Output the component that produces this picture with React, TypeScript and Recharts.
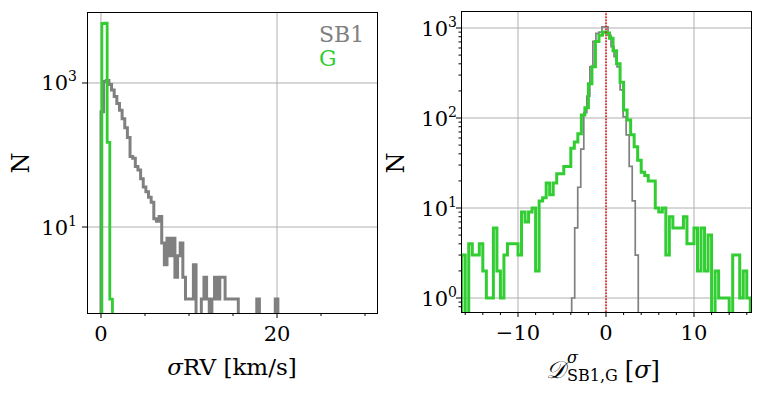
import React from "react";
import { LineChart, Line, XAxis, YAxis, ReferenceLine } from "recharts";

const FONT = "'DejaVu Serif', 'Liberation Serif', serif";
const GRID = "#b0b0b0";
const SB1_COLOR = "#808080";
const G_COLOR = "#32cd32";
// empty bins sit below the log axis and get clipped
const FLOOR = 0.1;

// left panel: sigma RV [km/s]
const sb1RvStart = 0;
const sb1RvWidth = 0.3;
const sb1RvCounts = [
  400, 1050, 1080, 950, 800, 650, 520, 420, 320, 240, 175, 95, 90, 69, 62, 47,
  36, 31, 26, 22, 13, 12, 14, 6, 3, 7, 4, 7, 2, 4, 6, 2, 1, 1, 1, 3, 0, 0, 1, 2,
  1, 0, 1, 2, 1, 2, 2, 1, 1, 1, 1, 1, 0, 0, 0, 0, 0, 0, 0, 1, 0, 0, 0, 0, 0, 0, 1,
];
const gRvEdges = [0.1, 0.4, 0.7, 1.0, 1.3];
const gRvCounts = [6700, 6800, 150, 1];

// right panel: D^sigma_{SB1,G} [sigma]
const sb1DStart = -3.9;
const sb1DWidth = 0.344;
const sb1DCounts = [
  1, 6, 17, 45, 115, 175, 370, 710, 870, 900, 1030, 1030, 830, 620, 480, 370,
  205, 103, 65, 29, 12, 3,
];
const gDStart = -16.4;
const gDWidth = 0.4;
const gDCounts = [
  3, 0, 4, 3, 3, 4, 2, 1, 1, 6, 2, 1, 3, 4, 4, 4, 3, 9, 7, 9, 10, 2, 12, 13, 19,
  14, 19, 24, 24, 29, 29, 46, 54, 67, 108, 130, 240, 370, 710, 830, 900, 880,
  770, 560, 400, 250, 123, 95, 65, 48, 34, 25, 23, 20, 20, 10, 9, 10, 3, 8, 6, 6,
  6, 8, 4, 4, 6, 2, 6, 2, 5, 0, 2, 1, 1, 1, 0, 3, 3, 1, 2, 1,
];

// axes
const rvXTicks = [0, 5, 10, 15, 20, 25, 30];
const rvXLabels = [0, 20];
const rvYTicks = [10, 1000];
const dXTicks = [-16, -14, -12, -10, -8, -6, -4, -2, 0, 2, 4, 6, 8, 10, 12, 14, 16];
const dXLabels = [-10, 0, 10];
const dYTicks = [
  0.8, 0.9, 1, 2, 3, 4, 5, 6, 7, 8, 9, 10, 20, 30, 40, 50, 60, 70, 80, 90, 100,
  200, 300, 400, 500, 600, 700, 800, 900, 1000,
];
const dYLabels = [1, 10, 100, 1000];

function uniformEdges(start: number, width: number, n: number) {
  return Array.from({ length: n + 1 }, (_, i) => start + i * width);
}

// matplotlib "step" outline of a histogram
function stepOutline(edges: number[], counts: number[]) {
  const pts = [{ x: edges[0], y: FLOOR }];
  counts.forEach((c, i) => {
    const v = c > 0 ? c : FLOOR;
    pts.push({ x: edges[i], y: v }, { x: edges[i + 1], y: v });
  });
  pts.push({ x: edges[edges.length - 1], y: FLOOR });
  return pts;
}

const sb1Rv = stepOutline(
  uniformEdges(sb1RvStart, sb1RvWidth, sb1RvCounts.length),
  sb1RvCounts,
);
const gRv = stepOutline(gRvEdges, gRvCounts);
const sb1D = stepOutline(
  uniformEdges(sb1DStart, sb1DWidth, sb1DCounts.length),
  sb1DCounts,
);
const gD = stepOutline(uniformEdges(gDStart, gDWidth, gDCounts.length), gDCounts);

const fmt = (v: number) => (v < 0 ? `\u2212${Math.abs(v)}` : `${v}`);

function XTick(props: any) {
  const { x, y, payload, labels } = props;
  const v = payload.value;
  const major = labels.includes(v);
  return (
    <g>
      <line x1={x} x2={x} y1={y} y2={y + (major ? 5 : 3)} stroke="#000" strokeWidth={1} />
      {major && (
        <text x={x} y={y + 28} textAnchor="middle" fontFamily={FONT} fontSize={21} fill="#000">
          {fmt(v)}
        </text>
      )}
    </g>
  );
}

function YTick(props: any) {
  const { x, y, payload, labels, pad } = props;
  const v = payload.value;
  const major = labels.includes(v);
  const exp = Math.round(Math.log10(v));
  return (
    <g>
      <line x1={x - (major ? 5 : 2.5)} x2={x} y1={y} y2={y} stroke="#000" strokeWidth={1} />
      {major && (
        <text x={x - pad} y={y + 7.5} textAnchor="end" fontFamily={FONT} fontSize={21} fill="#000">
          10
          <tspan dy={-9} fontSize={14}>
            {exp}
          </tspan>
        </text>
      )}
    </g>
  );
}

const label = (left: number, top: number, extra: React.CSSProperties = {}) =>
  ({
    position: "absolute",
    left,
    top,
    transform: "translate(-50%, -50%)",
    fontFamily: FONT,
    whiteSpace: "nowrap",
    lineHeight: 1,
    color: "#000",
    ...extra,
  }) as React.CSSProperties;

const box = (left: number, top: number, width: number, height: number) =>
  ({
    position: "absolute",
    left: left - 0.5,
    top: top - 0.5,
    width: width + 1,
    height: height + 1,
    border: "1px solid #000",
    boxSizing: "border-box",
    pointerEvents: "none",
  }) as React.CSSProperties;

export default function App() {
  return (
    <div style={{ position: "absolute", left: 0, top: 0, width: 763, height: 397, background: "#fff" }}>
      {/* left: sigma RV */}
      <div style={{ position: "absolute", left: 0, top: 0 }}>
        <LineChart width={380} height={397} margin={{ top: 12, right: 3, left: 27, bottom: 54 }}>
          <XAxis
            dataKey="x"
            type="number"
            domain={[-1.59, 31.36]}
            allowDataOverflow
            ticks={rvXTicks}
            interval={0}
            axisLine={false}
            tickLine={false}
            tickSize={0}
            tickMargin={0}
            height={30}
            tick={(p: any) => <XTick {...p} labels={rvXLabels} />}
          />
          <YAxis
            type="number"
            scale="log"
            domain={[0.64, 9680]}
            allowDataOverflow
            ticks={rvYTicks}
            interval={0}
            axisLine={false}
            tickLine={false}
            tickSize={0}
            tickMargin={0}
            width={60}
            tick={(p: any) => <YTick {...p} labels={rvYTicks} pad={10} />}
          />
          {rvXLabels.map((v) => (
            <ReferenceLine key={`gx${v}`} x={v} stroke={GRID} strokeWidth={1} />
          ))}
          {rvYTicks.map((v) => (
            <ReferenceLine key={`gy${v}`} y={v} stroke={GRID} strokeWidth={1} />
          ))}
          <Line data={sb1Rv} dataKey="y" type="linear" dot={false} stroke={SB1_COLOR} strokeWidth={3} isAnimationActive={false} />
          <Line data={gRv} dataKey="y" type="linear" dot={false} stroke={G_COLOR} strokeWidth={2.8} isAnimationActive={false} />
        </LineChart>
      </div>

      {/* right: D^sigma */}
      <div style={{ position: "absolute", left: 380, top: 0 }}>
        <LineChart width={383} height={397} margin={{ top: 11, right: 12, left: 21, bottom: 55 }}>
          <XAxis
            dataKey="x"
            type="number"
            domain={[-16.48, 16.48]}
            allowDataOverflow
            ticks={dXTicks}
            interval={0}
            axisLine={false}
            tickLine={false}
            tickSize={0}
            tickMargin={0}
            height={30}
            tick={(p: any) => <XTick {...p} labels={dXLabels} />}
          />
          <YAxis
            type="number"
            scale="log"
            domain={[0.699, 1545]}
            allowDataOverflow
            ticks={dYTicks}
            interval={0}
            axisLine={false}
            tickLine={false}
            tickSize={0}
            tickMargin={0}
            width={60}
            tick={(p: any) => <YTick {...p} labels={dYLabels} pad={4} />}
          />
          {dXLabels.map((v) => (
            <ReferenceLine key={`gx${v}`} x={v} stroke={GRID} strokeWidth={1} />
          ))}
          {dYLabels.map((v) => (
            <ReferenceLine key={`gy${v}`} y={v} stroke={GRID} strokeWidth={1} />
          ))}
          <Line data={sb1D} dataKey="y" type="linear" dot={false} stroke={SB1_COLOR} strokeWidth={1.7} isAnimationActive={false} />
          <Line data={gD} dataKey="y" type="linear" dot={false} stroke={G_COLOR} strokeWidth={3} isAnimationActive={false} />
          <ReferenceLine x={0} stroke="#ff0000" strokeWidth={1.5} strokeDasharray="1.5 1.5" />
        </LineChart>
      </div>

      {/* spines */}
      <div style={box(87, 12, 290, 301)} />
      <div style={box(461, 11, 290, 301)} />

      {/* legend */}
      <div style={{ position: "absolute", left: 319, top: 23, fontFamily: FONT, fontSize: 22, lineHeight: "24px", color: SB1_COLOR }}>
        <div>SB1</div>
        <div style={{ color: G_COLOR }}>G</div>
      </div>

      {/* axis titles */}
      <div style={label(21, 163, { fontSize: 24, transform: "translate(-50%, -50%) rotate(-90deg)" })}>N</div>
      <div style={label(396, 163, { fontSize: 24, transform: "translate(-50%, -50%) rotate(-90deg)" })}>N</div>
      <div style={label(232, 367, { fontSize: 23 })}>
        <i>σ</i>RV [km/s]
      </div>
      <div style={label(603, 370, { fontSize: 24, display: "flex", alignItems: "center" })}>
        <span style={{ fontStyle: "italic" }}>𝒟</span>
        <span style={{ display: "inline-flex", flexDirection: "column", fontSize: 16, lineHeight: "16px", marginLeft: 2, marginRight: 7 }}>
          <i style={{ marginTop: -6 }}>σ</i>
          <span style={{ marginTop: 2 }}>SB1,G</span>
        </span>
        <span>
          [<i>σ</i>]
        </span>
      </div>
    </div>
  );
}
